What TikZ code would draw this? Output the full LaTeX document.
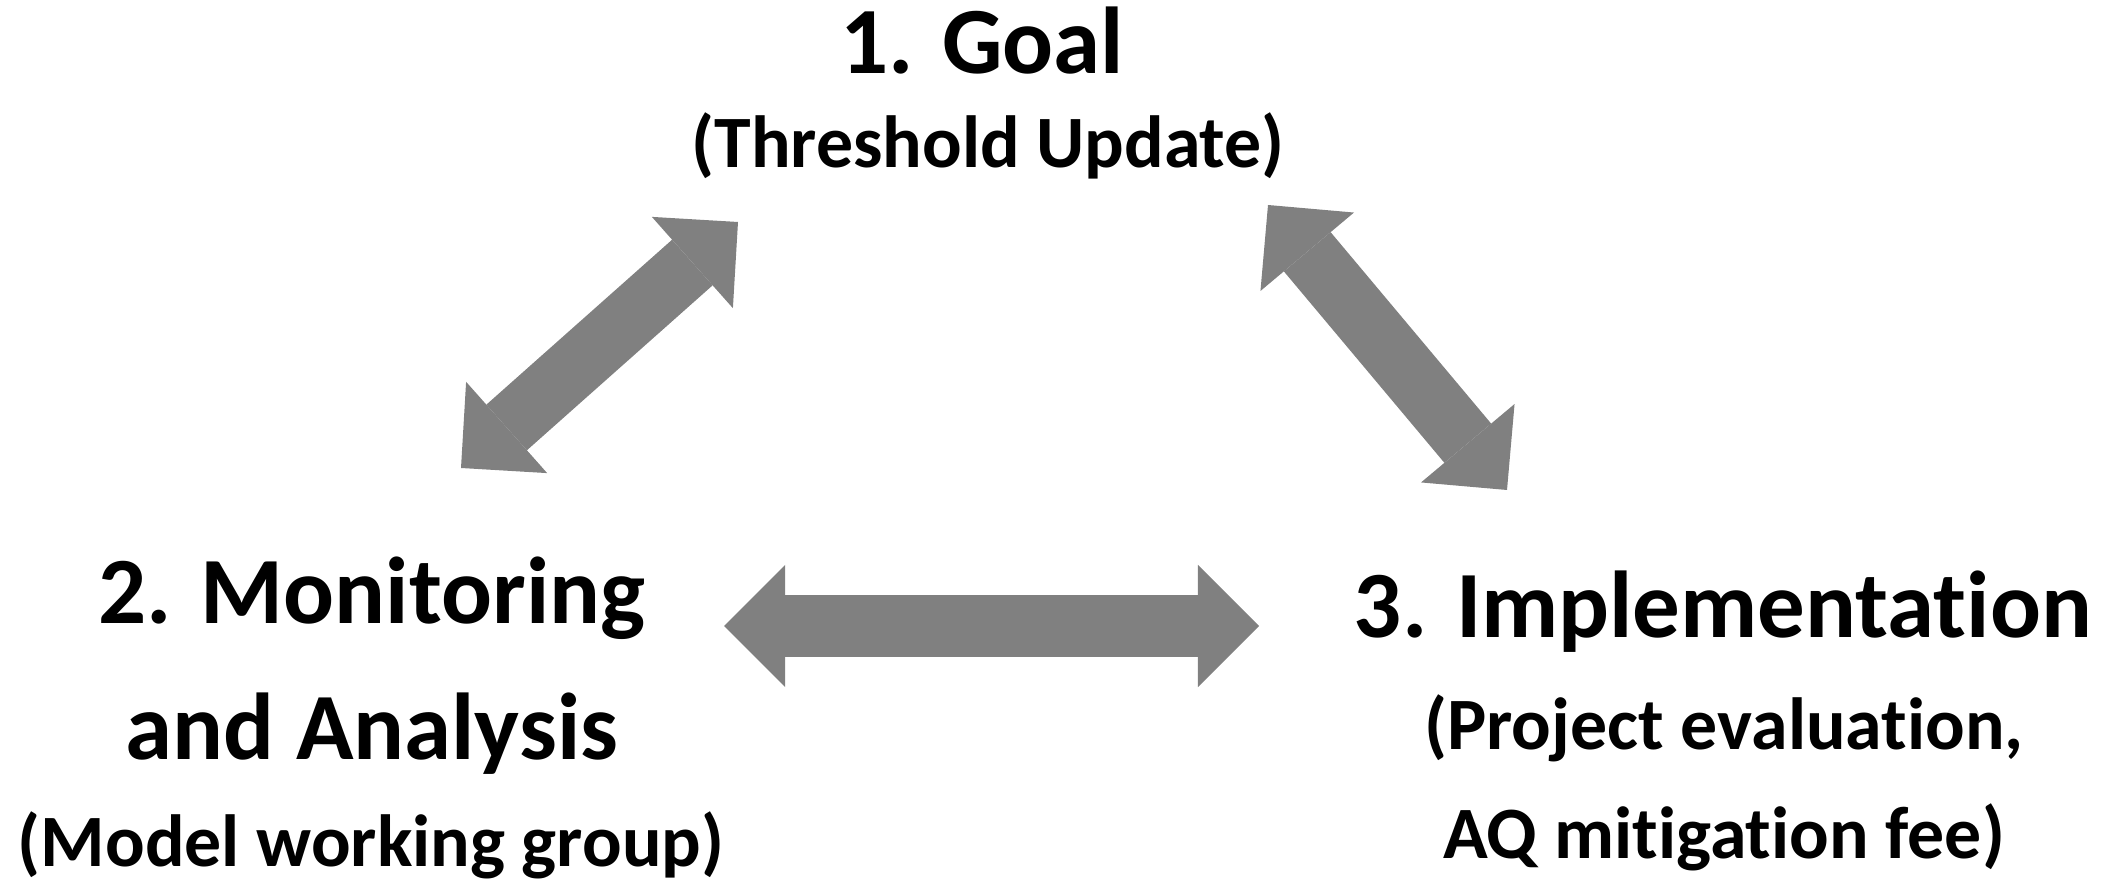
\documentclass[tikz,border=0pt]{standalone}
\usepackage{fontspec}
\setmainfont{Carlito}[Ligatures=NoCommon]
\usetikzlibrary{arrows.meta, positioning}
\definecolor{arrowgray}{RGB}{128,128,128}

\begin{document}
\begin{tikzpicture}[x=0.01cm, y=0.01cm,
    title/.style={align=center, anchor=base, inner sep=0pt, font=\bfseries\fontsize{27}{38.7}\selectfont},
    subtitle/.style={align=center, anchor=base, inner sep=0pt, font=\bfseries\fontsize{21}{31}\selectfont},
    dblarrow/.style={draw=arrowgray, line width=0.61cm,
        {Triangle[length=0.61cm, width=1.22cm, line width=0pt, fill=arrowgray]}-{Triangle[length=0.61cm, width=1.22cm, line width=0pt, fill=arrowgray]}}]
		\useasboundingbox (0,0) rectangle (2118,885);
		
		\node[title] (goal) at (982,811) {1. Goal};
		\node[subtitle] (goalsub) at (988,717) {(Threshold Update)};
		
		% base of a two-line node is the base of its last line
		\node[title] (mon) at (372,125) {2. Monitoring\\and Analysis};
		\node[subtitle] (monsub) at (371,18) {(Model working group)};
		
		\node[title] (impl) at (1723,247) {3. Implementation};
		\node[subtitle] (implsub) at (1724,26) {(Project evaluation,\\AQ mitigation fee)};
		
		\coordinate (goalL) at (738,663);
		\coordinate (monU) at (461,417);
		\coordinate (goalR) at (1268,680);
		\coordinate (implU) at (1507,395);
		\coordinate (monR) at (724,259);
		\coordinate (implL) at (1259,259);
		
		\draw[dblarrow] (monU) -- (goalL);
		\draw[dblarrow] (goalR) -- (implU);
		\draw[dblarrow] (monR) -- (implL);

	\end{tikzpicture}
\end{document}
